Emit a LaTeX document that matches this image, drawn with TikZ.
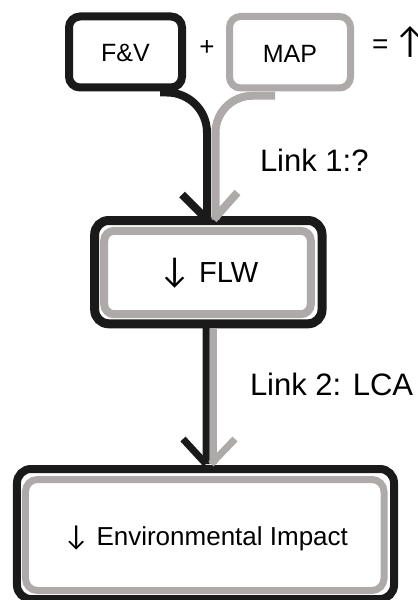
\documentclass[tikz,border=0pt]{standalone}
\usepackage{fontspec}
\setmainfont{Liberation Sans}
\newfontfamily\arrowfont{Carlito}
\usetikzlibrary{calc}
\definecolor{blk}{RGB}{26,26,26}
\definecolor{gry}{RGB}{174,170,170}
\newcommand{\myarrow}[2]{{\arrowfont\fontsize{#1}{#1}\selectfont #2}}
\begin{document}
\begin{tikzpicture}[x=1bp,y=-1bp,
  bx/.style={draw, inner sep=0pt, outer sep=0pt, align=center, text=black},
  lbl/.style={inner sep=0pt, outer sep=0pt, text=black},
  blkline/.style={draw=blk, line width=8bp},
  gryline/.style={draw=gry, line width=8bp},
]
\useasboundingbox (0,0) rectangle (417,600);
% top boxes
\node[bx, draw=blk, line width=8bp, rounded corners=11bp, minimum width=113bp, minimum height=71bp,
      text height=20bp, text depth=0pt, font=\fontsize{25bp}{30bp}\selectfont] (fv) at (125.5,52) {F\&V};
\node[bx, draw=gry, line width=7bp, rounded corners=11bp, minimum width=121bp, minimum height=71.5bp,
      text height=20bp, text depth=0pt, font=\fontsize{25bp}{30bp}\selectfont] (map) at (290,52.25) {MAP};
\node[lbl, anchor=base, font=\fontsize{26bp}{30bp}\selectfont] (plus) at (207,55.5) {+};
\node[lbl, anchor=base west, font=\fontsize{28bp}{32bp}\selectfont] (eq) at (372,54) {=\hspace{5bp}\myarrow{37bp}{↑}};
% FLW box
\node[bx, draw=blk, line width=9bp, rounded corners=14bp, minimum width=227.3bp, minimum height=103.3bp,
      text height=20bp, text depth=0pt, font=\fontsize{29bp}{34bp}\selectfont] (flw) at (208.35,272.15) {\myarrow{36bp}{↓} FLW};
\draw[gry, line width=8bp, rounded corners=10bp] ($(flw.north west)+(9.5,10.3)$) rectangle ($(flw.south east)+(-11.2,-9.6)$);
% Env box
\node[bx, draw=blk, line width=8bp, rounded corners=14bp, minimum width=377bp, minimum height=130bp,
      text height=22bp, text depth=0pt, font=\fontsize{26bp}{31bp}\selectfont] (env) at (205.5,534) {\myarrow{29bp}{↓} Environmental Impact};
\draw[gry, line width=7bp, rounded corners=12bp] ($(env.north west)+(8.5,10.5)$) rectangle ($(env.south east)+(-10,-8.5)$);
% connector tips
\coordinate (tipA) at ($(flw.north)+(-1.35,-1)$);
\coordinate (tipB) at ($(flw.north)+(7.15,-1)$);
\coordinate (tipC) at ($(env.north)+(0.5,-5)$);
\coordinate (tipD) at ($(env.north)+(7.5,-5)$);
% link 1
\draw[blkline, rounded corners=40bp] ($(fv.south)+(34.5,5)$) -| (tipA);
\draw[blkline] (tipA) -- ++(-25,-25);
\draw[gryline, rounded corners=37bp] ($(map.south)+(-15,7.75)$) -| (tipB);
\draw[gryline] ($(tipB)+(-2,0)$) -- ++(24,-27);
% link 2
\draw[blkline, line width=7bp] ($(flw.south)+(-2.35,4)$) -- (tipC);
\draw[blkline, line width=7bp] (tipC) -- ++(-23,-25);
\draw[gryline, line width=7bp] ($(flw.south)+(4.65,4)$) -- (tipD);
\draw[gryline, line width=7bp] ($(tipD)+(-2,0)$) -- ++(24,-25);
% labels
\node[lbl, anchor=base west, font=\fontsize{31bp}{36bp}\selectfont] (l1) at (260,172) {Link 1:?};
\node[lbl, anchor=base west, font=\fontsize{31bp}{36bp}\selectfont] (l2) at (250,395) {Link 2: LCA};
\end{tikzpicture}
\end{document}
